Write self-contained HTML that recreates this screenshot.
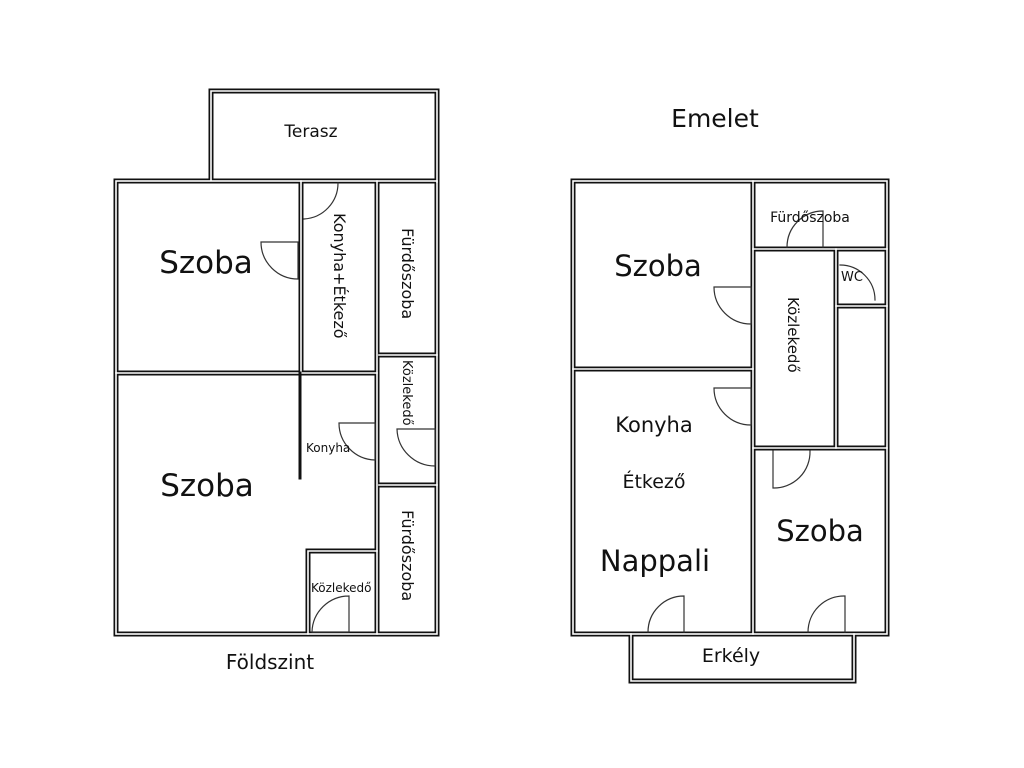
<!DOCTYPE html>
<html><head><meta charset="utf-8"><style>
html,body{margin:0;padding:0;background:#fff;}
svg{display:block}
text{font-family:"DejaVu Sans","Liberation Sans",sans-serif;fill:#111}
</style></head><body>
<svg width="1024" height="768" viewBox="0 0 1024 768" xmlns="http://www.w3.org/2000/svg">
<rect width="1024" height="768" fill="#fff"/>
<g fill="none" stroke-linecap="square">
<g id="walls" stroke="#111" stroke-width="5">
<!-- left -->
<path d="M211 180 V91 H437 V182"/>
<rect x="116" y="181" width="321" height="453"/>
<path d="M301 181 V373"/>
<path d="M377 181 V634"/>
<path d="M116 373 H377"/>
<path d="M379 355 H437"/>
<path d="M379 485 H437"/>
<path d="M308 634 V551 H377"/>
<!-- right -->
<rect x="573" y="181" width="314" height="453"/>
<path d="M753 181 V634"/>
<path d="M573 369 H753"/>
<path d="M753 249 H887"/>
<path d="M836 249 V448"/>
<path d="M753 448 H887"/>
<path d="M836 306 H887"/>
<path d="M631 634 V681 H854 V634"/>
</g>
<g stroke="#fff" stroke-width="1.6">
<path d="M211 180 V91 H437 V182"/>
<rect x="116" y="181" width="321" height="453"/>
<path d="M301 181 V373"/>
<path d="M377 181 V634"/>
<path d="M116 373 H377"/>
<path d="M379 355 H437"/>
<path d="M379 485 H437"/>
<path d="M308 634 V551 H377"/>
<rect x="573" y="181" width="314" height="453"/>
<path d="M753 181 V634"/>
<path d="M573 369 H753"/>
<path d="M753 249 H887"/>
<path d="M836 249 V448"/>
<path d="M753 448 H887"/>
<path d="M836 306 H887"/>
<path d="M631 634 V681 H854 V634"/>
</g>
<!-- thin wall -->
<path d="M300 373 V478" stroke="#111" stroke-width="3"/>
<!-- doors -->
<g stroke="#333" stroke-width="1.2">
<path d="M261 242 H298 V279 A37 37 0 0 1 261 242"/>
<path d="M304 219 A36 36 0 0 0 338 183"/>
<path d="M339 423 H375 V460 A37 37 0 0 1 339 423"/>
<path d="M397 429 H435 V466 A38 38 0 0 1 397 429"/>
<path d="M349 596 V632 H312 A37 37 0 0 1 349 596"/>
<path d="M714 287 H751 V324 A37 37 0 0 1 714 287"/>
<path d="M714 388 H751 V425 A37 37 0 0 1 714 388"/>
<path d="M787 247 A36 36 0 0 1 823 211 V247"/>
<path d="M840 265 A35 35 0 0 1 875 300"/>
<path d="M773 451 V488 A36 36 0 0 0 810 451"/>
<path d="M648 632 A36 36 0 0 1 684 596 V632"/>
<path d="M808 632 A36 36 0 0 1 845 596 V632"/>
</g>
</g>
<!-- labels -->
<text x="311" y="137" font-size="17" text-anchor="middle">Terasz</text>
<text x="206" y="273" font-size="31" text-anchor="middle">Szoba</text>
<text x="207" y="496" font-size="31" text-anchor="middle">Szoba</text>
<text font-size="16" transform="translate(334,213) rotate(90)">Konyha+Étkező</text>
<text font-size="16" transform="translate(402,228) rotate(90)">Fürdőszoba</text>
<text font-size="13" transform="translate(403,360) rotate(90)">Közlekedő</text>
<text font-size="16" transform="translate(402,510) rotate(90)">Fürdőszoba</text>
<text x="306" y="452" font-size="12">Konyha</text>
<text x="311" y="592" font-size="12">Közlekedő</text>
<text x="270" y="669" font-size="20" text-anchor="middle">Földszint</text>
<text x="715" y="127" font-size="25" text-anchor="middle">Emelet</text>
<text x="658" y="276" font-size="29" text-anchor="middle">Szoba</text>
<text x="810" y="222" font-size="14" text-anchor="middle">Fürdőszoba</text>
<text x="852" y="281" font-size="13" text-anchor="middle">WC</text>
<text font-size="15" transform="translate(788,297) rotate(90)">Közlekedő</text>
<text x="654" y="432" font-size="21" text-anchor="middle">Konyha</text>
<text x="654" y="488" font-size="19" text-anchor="middle">Étkező</text>
<text x="655" y="571" font-size="29" text-anchor="middle">Nappali</text>
<text x="820" y="541" font-size="29" text-anchor="middle">Szoba</text>
<text x="731" y="662" font-size="19" text-anchor="middle">Erkély</text>
</svg>
</body></html>
